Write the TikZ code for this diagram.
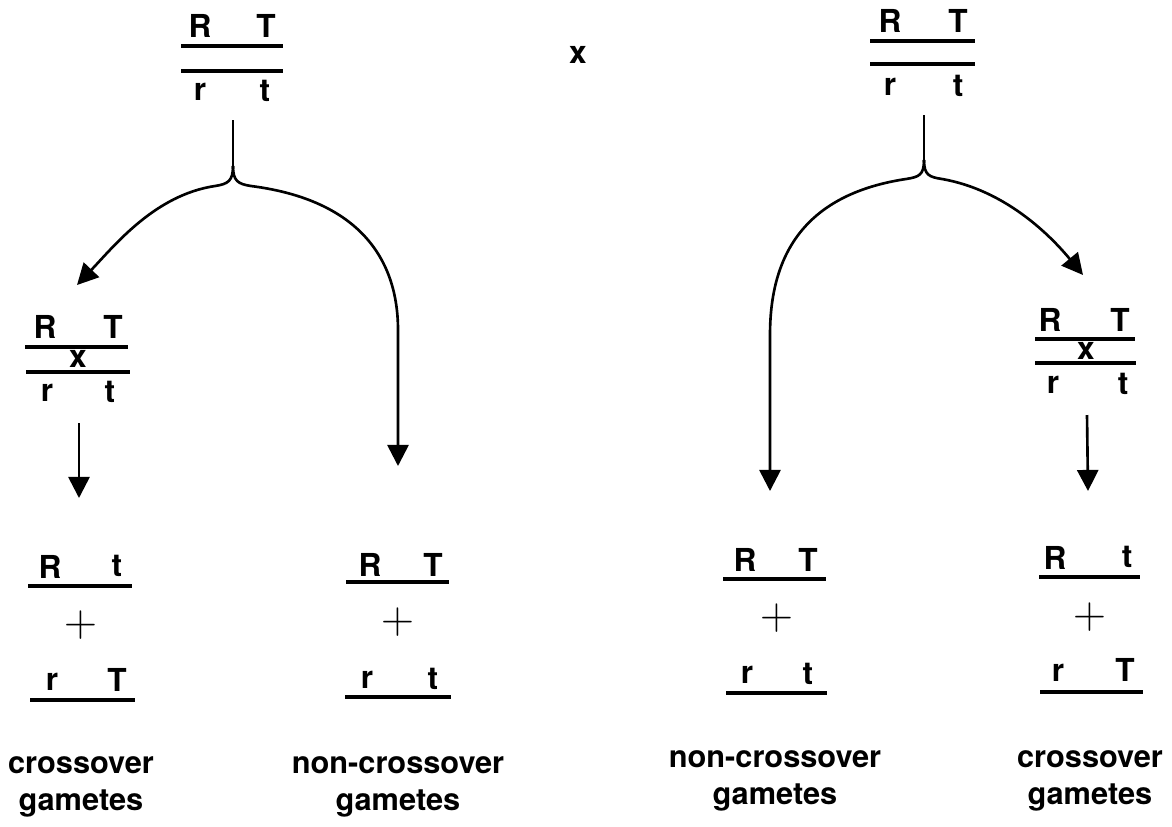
\documentclass[tikz,border=0pt]{standalone}
\usepackage{fontspec}
\setmainfont{TeX Gyre Heros}
\newfontfamily\plusfont{Latin Modern Roman}
\usetikzlibrary{arrows.meta, positioning}

\begin{document}
\begin{tikzpicture}[x=0.02cm, y=-0.02cm,
  gene/.style={inner sep=0pt, font=\fontsize{18}{20}\selectfont\bfseries},
  lbl/.style={inner sep=0pt, align=center, font=\fontsize{17.5}{21}\selectfont\bfseries},
  plus/.style={inner sep=0pt, font=\fontsize{26}{26}\selectfont\plusfont},
  chrom/.style={line width=1.9pt},
  fork/.style={line width=1.5pt},
  arr/.style={-{Triangle[length=12pt, width=12pt]}, line width=1.5pt}
]
\useasboundingbox (0,0) rectangle (1172,826);

% parents
\node[gene] (lpR) at (200,26) {R};
\node[gene] (lpT) at (266,26) {T};
\draw[chrom] (181,46) -- (283,46);
\draw[chrom] (181,71) -- (283,71);
\node[gene] (lpr) at (200,92) {r};
\node[gene] (lpt) at (265,91) {t};

\node[gene] (mult) at (578,55) {x};

\node[gene] (rpR) at (890,21) {R};
\node[gene] (rpT) at (958,21) {T};
\draw[chrom] (870,41) -- (975,41);
\draw[chrom] (870,64) -- (975,64);
\node[gene] (rpr) at (890,87) {r};
\node[gene] (rpt) at (958,86) {t};

% forks
\coordinate (lfork) at (233,120);
\coordinate (lcusp) at (233,166);
\coordinate (ltip)  at (77,285);
\coordinate (lnc)   at (398,466);
\draw[fork] (lfork) -- (lcusp);
\draw[arr] (lcusp) .. controls (233,181) and (228,184) .. (215,186)
  .. controls (155,195) and (115,245) .. (ltip);
\draw[arr] (lcusp) .. controls (233,181) and (238,184) .. (251,186)
  .. controls (360,200) and (398,260) .. (398,330) -- (lnc);

\coordinate (rfork) at (924,115);
\coordinate (rcusp) at (924,160);
\coordinate (rtip)  at (1083,275);
\coordinate (rnc)   at (770,491);
\draw[fork] (rfork) -- (rcusp);
\draw[arr] (rcusp) .. controls (924,175) and (919,177) .. (906,179)
  .. controls (800,195) and (770,260) .. (770,335) -- (rnc);
\draw[arr] (rcusp) .. controls (924,175) and (929,177) .. (942,179)
  .. controls (1005,190) and (1050,235) .. (rtip);

% crossing over
\node[gene] (lcR) at (45,327) {R};
\node[gene] (lcT) at (113,327) {T};
\draw[chrom] (25,347) -- (128,347);
\node[gene] (lcx) at (78,359) {x};
\draw[chrom] (26,372) -- (130,372);
\node[gene] (lcr) at (47,393) {r};
\node[gene] (lct) at (110,392) {t};
\coordinate (lcout) at (79,423);
\coordinate (lcin)  at (79,498);
\draw[arr] (lcout) -- (lcin);

\node[gene] (rcR) at (1050,320) {R};
\node[gene] (rcT) at (1120,320) {T};
\draw[chrom] (1035,339) -- (1135,339);
\node[gene] (rcx) at (1086,351) {x};
\draw[chrom] (1035,363) -- (1136,363);
\node[gene] (rcr) at (1053,385) {r};
\node[gene] (rct) at (1123,384) {t};
\coordinate (rcout) at (1087,415);
\coordinate (rcin)  at (1088,491);
\draw[arr] (rcout) -- (rcin);

% gametes
\node[gene] (g1R) at (50,567) {R};
\node[gene] (g1t) at (117,566) {t};
\draw[chrom] (28,586) -- (132,586);
\node[plus] (g1p) at (81,625) {+};
\node[gene] (g1r) at (52,682) {r};
\node[gene] (g1T) at (117,680) {T};
\draw[chrom] (30,700) -- (135,700);
\node[lbl] (g1l) at (81,787) {crossover\\gametes};

\node[gene] (g2R) at (370,565) {R};
\node[gene] (g2T) at (433,565) {T};
\draw[chrom] (346,582) -- (449,582);
\node[plus] (g2p) at (398,622) {+};
\node[gene] (g2r) at (367,680) {r};
\node[gene] (g2t) at (433,679) {t};
\draw[chrom] (345,697) -- (451,697);
\node[lbl] (g2l) at (398,787) {non-crossover\\gametes};

\node[gene] (g3R) at (745,560) {R};
\node[gene] (g3T) at (808,560) {T};
\draw[chrom] (723,579) -- (826,579);
\node[plus] (g3p) at (777,618) {+};
\node[gene] (g3r) at (747,675) {r};
\node[gene] (g3t) at (808,674) {t};
\draw[chrom] (726,693) -- (827,693);
\node[lbl] (g3l) at (775,781) {non-crossover\\gametes};

\node[gene] (g4R) at (1055,558) {R};
\node[gene] (g4t) at (1127,557) {t};
\draw[chrom] (1039,577) -- (1140,577);
\node[plus] (g4p) at (1090,617) {+};
\node[gene] (g4r) at (1058,673) {r};
\node[gene] (g4T) at (1125,670) {T};
\draw[chrom] (1040,692) -- (1143,692);
\node[lbl] (g4l) at (1090,781) {crossover\\gametes};
\end{tikzpicture}
\end{document}
